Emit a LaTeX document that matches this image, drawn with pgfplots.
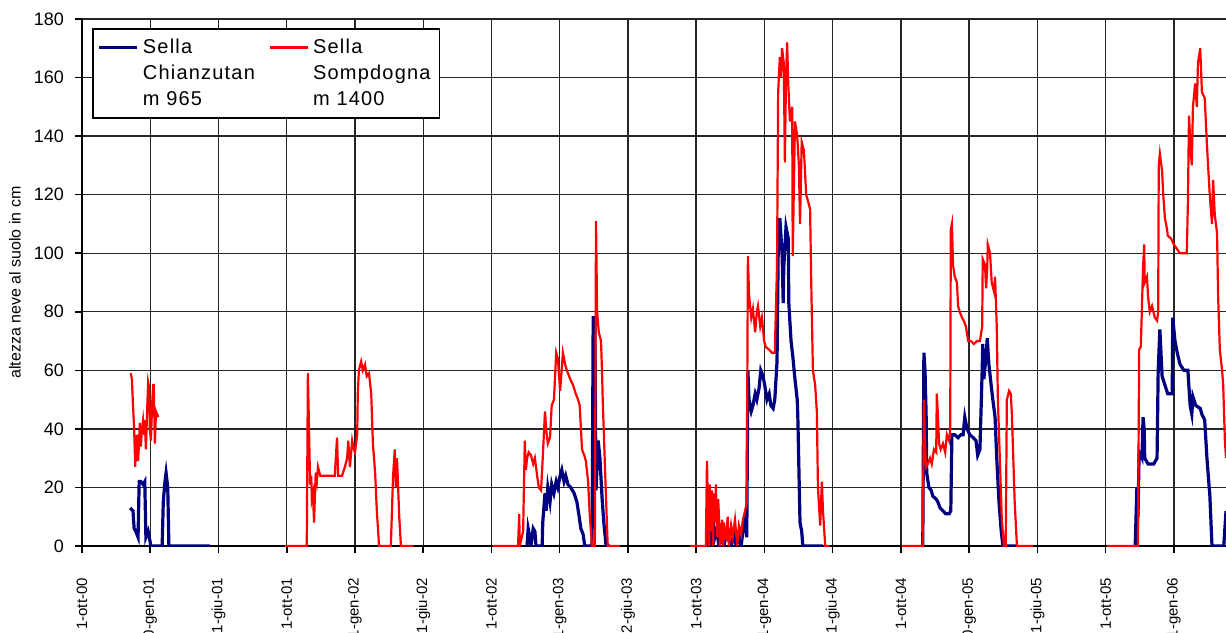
\documentclass[border=0pt]{standalone}
\usepackage{fontspec}
\setmainfont{Liberation Sans}
\usepackage{pgfplots}
\pgfplotsset{compat=1.18}
\definecolor{sellablu}{RGB}{0,0,128}
\definecolor{sellared}{RGB}{255,0,0}
\begin{document}
\begin{tikzpicture}
\begin{axis}[
 name=ax,
 scale only axis, width=572pt, height=263.5pt,
 xmin=0, xmax=2041, ymin=0, ymax=180,
 axis x line*=bottom, axis y line*=left,
 axis line style={black, line width=1pt},
 ytick={0,20,...,180},
 xtick={0,121.75,243.5,365.25,487,608.75,730.5,852.25,974,1095.75,1217.5,1339.25,1461,1582.75,1704.5,1826.25,1948},
 xticklabels={1-ott-00,30-gen-01,1-giu-01,1-ott-01,31-gen-02,1-giu-02,1-ott-02,31-gen-03,2-giu-03,1-ott-03,31-gen-04,1-giu-04,1-ott-04,30-gen-05,1-giu-05,1-ott-05,31-gen-06},
 grid=major, grid style={black!85, line width=0.7pt},
 tick style={black, line width=0.8pt},
 tick align=outside, major tick length=3.5pt,
 xticklabel shift=9pt, yticklabel shift=2pt,
 x tick label style={rotate=90, anchor=east, font=\fontsize{7.5}{9}\selectfont},
 y tick label style={font=\fontsize{9}{10}\selectfont},
 /pgf/number format/assume math mode=true,
 ylabel={altezza neve al suolo in cm},
 ylabel style={at={(axis description cs:-0.0586,0.5)}, anchor=center, font=\fontsize{8}{9}\selectfont},
 unbounded coords=jump,
 legend image code/.code={\draw[#1] (0pt,13pt) -- (19pt,13pt);},
 legend style={at={(axis description cs:0.0087,0.983)}, anchor=north west, draw=black, line width=0.8pt, fill=white,
   font=\fontsize{10}{13}\selectfont\addfontfeature{LetterSpace=6}, legend columns=2,
   inner xsep=2.5pt, inner ysep=3pt,
   /tikz/every even column/.append style={column sep=5pt},
   cells={align=left}},
]
\addplot[sellablu, line width=1.6pt] coordinates {
(86,13)(91,12)(93,6)(96,5)(100,3)(102,22)(105,22)(109,21)(112,22)(114,3)(118,5)(121,2)(123,0)(143,0)(145,15)(148,22)(150,25)(153,20)(155,0)(228,0)
(500,nan)
(794,0)(796,6)(799,3)(801,0)(805,6)(808,5)(810,0)(821,0)(822,8)(826,18)(828,12)(831,20)(835,15)(838,21)(842,18)(846,22)(849,20)(853,24)(856,26)(860,22)(863,24)(867,21)(872,20)(878,18)(883,15)(887,10)(890,6)(894,4)(897,0)(910,0)(912,78)(915,78)(917,19)(921,36)(924,30)(928,16)(931,8)(935,0)(942,0)
(1000,nan)
(1115,0)(1117,18)(1119,3)(1122,0)(1126,8)(1129,3)(1133,6)(1136,0)(1142,3)(1145,0)(1151,5)(1154,2)(1158,0)(1163,4)(1167,0)(1172,3)(1176,0)(1179,5)(1183,9)(1186,3)(1188,60)(1190,50)(1194,46)(1197,48)(1201,52)(1204,50)(1208,54)(1211,60)(1215,58)(1218,55)(1222,50)(1226,52)(1229,48)(1233,47)(1236,50)(1240,63)(1242,99)(1245,112)(1249,100)(1251,83)(1252,95)(1256,109)(1260,105)(1261,83)(1265,70)(1268,65)(1272,57)(1276,50)(1277,45)(1281,8)(1284,5)(1286,0)(1322,0)
(1400,nan)
(1500,0)(1502,66)(1504,60)(1506,45)(1507,25)(1511,20)(1515,19)(1518,17)(1524,16)(1527,15)(1531,13)(1536,12)(1541,11)(1547,11)(1550,12)(1552,38)(1557,38)(1563,37)(1568,38)(1572,38)(1575,44)(1579,40)(1584,38)(1590,37)(1595,36)(1598,31)(1602,33)(1606,60)(1607,69)(1609,57)(1613,65)(1615,71)(1618,62)(1622,55)(1625,50)(1629,44)(1632,30)(1636,15)(1640,5)(1643,0)(1668,0)
(1750,nan)
(1879,0)(1882,20)(1884,10)(1886,32)(1891,30)(1893,44)(1895,40)(1896,30)(1902,28)(1907,28)(1912,28)(1918,30)(1920,60)(1923,74)(1927,58)(1932,55)(1937,52)(1945,52)(1946,78)(1950,70)(1954,66)(1959,62)(1966,60)(1973,60)(1977,48)(1980,45)(1982,51)(1987,48)(1995,47)(1998,45)(2003,43)(2007,30)(2011,20)(2012,18)(2016,0)(2037,0)(2041,12)
};
\addlegendentry{Sella\\Chianzutan\\m 965}
\addplot[sellared, line width=1.1pt] coordinates {
(87,59)(89,57)(91,48)(93,40)(95,27)(96,33)(98,38)(100,29)(102,36)(103,42)(105,34)(107,40)(109,43)(111,38)(112,43)(114,33)(116,45)(118,56)(120,54)(121,40)(123,36)(125,48)(127,55)(128,55)(130,35)(132,46)(134,45)(136,44)
(250,nan)
(362,0)(401,0)(403,59)(405,40)(407,21)(409,24)(410,16)(412,18)(414,8)(416,20)(417,25)(419,22)(421,27)(425,24)(434,24)(442,24)(451,24)(455,37)(457,24)(464,24)(469,27)(473,30)(475,36)(478,27)(482,36)(485,33)(487,32)(491,38)(492,52)(494,60)(498,63)(501,60)(505,62)(508,58)(512,59)(516,52)(519,35)(523,25)(526,12)(530,0)(551,0)(555,24)(558,33)(560,20)(562,30)(566,10)(569,0)(591,0)
(650,nan)
(733,0)(778,0)(780,11)(781,0)(787,5)(790,36)(792,26)(794,30)(797,32)(801,31)(805,28)(808,30)(812,24)(815,20)(819,19)(822,30)(826,46)(828,40)(831,35)(835,37)(838,48)(842,50)(846,66)(849,64)(853,53)(855,58)(858,66)(862,62)(865,60)(871,57)(876,55)(881,52)(885,50)(888,48)(892,33)(896,31)(899,29)(903,22)(906,10)(910,0)(915,0)(917,111)(919,80)(922,73)(926,70)(928,58)(929,50)(933,27)(937,5)(938,0)(960,0)
(1000,nan)
(1085,0)(1113,0)(1115,29)(1117,10)(1119,0)(1120,21)(1122,5)(1124,19)(1126,0)(1127,18)(1129,8)(1131,21)(1133,3)(1135,16)(1136,12)(1138,0)(1142,9)(1144,0)(1145,8)(1149,2)(1152,10)(1154,0)(1158,7)(1161,3)(1165,9)(1169,0)(1172,7)(1176,4)(1179,9)(1183,12)(1186,15)(1188,99)(1190,86)(1194,78)(1197,81)(1201,73)(1204,80)(1206,82)(1210,75)(1213,78)(1217,70)(1220,68)(1226,67)(1231,66)(1236,66)(1240,96)(1242,155)(1245,167)(1247,160)(1249,170)(1252,165)(1254,131)(1256,160)(1258,172)(1260,158)(1263,145)(1267,150)(1268,99)(1272,145)(1276,140)(1279,130)(1281,110)(1284,138)(1288,135)(1292,120)(1295,118)(1299,115)(1301,90)(1304,60)(1308,55)(1311,46)(1313,20)(1317,7)(1320,22)(1322,12)(1326,0)(1334,0)
(1400,nan)
(1463,0)(1500,0)(1502,50)(1504,35)(1506,27)(1509,28)(1513,30)(1516,28)(1520,33)(1524,32)(1525,52)(1527,45)(1529,35)(1532,33)(1536,35)(1540,32)(1543,38)(1547,36)(1549,40)(1550,108)(1552,110)(1554,96)(1557,92)(1561,90)(1563,82)(1566,80)(1570,78)(1573,77)(1577,75)(1581,70)(1586,70)(1591,69)(1597,70)(1602,70)(1606,75)(1607,98)(1611,96)(1613,88)(1615,95)(1616,103)(1620,100)(1623,90)(1627,87)(1629,92)(1632,75)(1634,50)(1638,27)(1641,9)(1645,0)(1648,0)(1650,50)(1654,53)(1657,52)(1659,45)(1661,33)(1664,15)(1668,0)(1697,0)
(1750,nan)
(1829,0)(1884,0)(1886,67)(1889,68)(1893,95)(1895,103)(1896,90)(1900,92)(1902,85)(1905,80)(1909,82)(1914,78)(1918,77)(1920,80)(1921,130)(1923,134)(1927,128)(1929,120)(1932,112)(1936,108)(1937,106)(1943,105)(1948,103)(1955,101)(1959,100)(1966,100)(1971,100)(1973,117)(1975,147)(1978,135)(1980,130)(1982,150)(1986,158)(1989,150)(1991,165)(1995,170)(1998,155)(2003,153)(2007,137)(2009,130)(2012,120)(2016,110)(2018,125)(2021,113)(2025,107)(2027,85)(2030,67)(2034,60)(2036,55)(2039,36)(2041,30)
};
\addlegendentry{Sella\\Sompdogna\\m 1400}
\end{axis}
\pgfresetboundingbox
\path[use as bounding box] ([shift={(-41pt,-43pt)}]ax.south west) rectangle ([shift={(0pt,9.5pt)}]ax.north east);
\end{tikzpicture}
\end{document}
